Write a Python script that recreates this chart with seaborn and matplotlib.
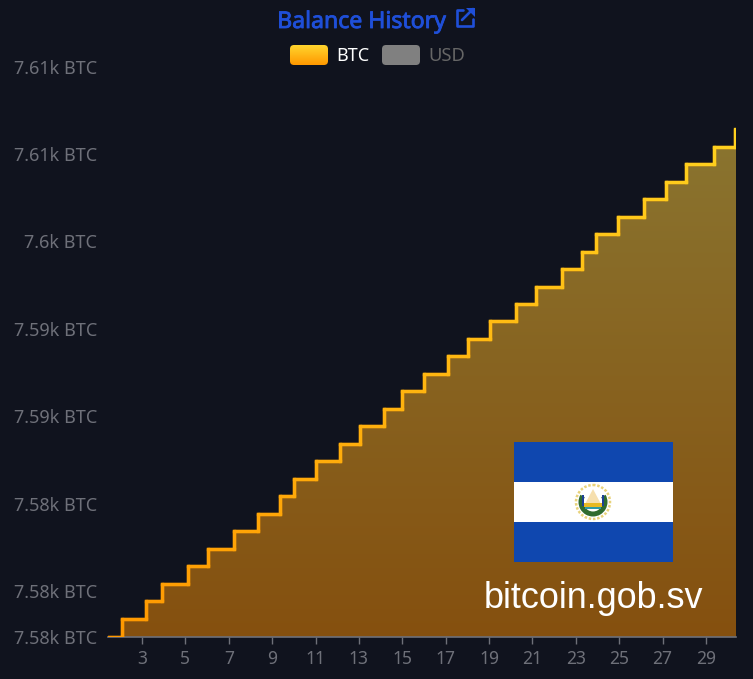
import numpy as np
import matplotlib
matplotlib.use("Agg")
import matplotlib.pyplot as plt
import matplotlib.patheffects as pe
import seaborn as sns
import pandas as pd
from matplotlib.collections import LineCollection
from matplotlib.colors import LinearSegmentedColormap
from matplotlib.patches import FancyBboxPatch, Rectangle, Circle, Polygon, Wedge

# ---- data ----
days = [1.43, 2.08, 3.18, 3.92, 5.12, 6.04, 7.24, 8.35, 9.36, 10.01, 11.02, 12.13, 13.05,
        14.16, 14.99, 16.00, 17.11, 18.03, 19.04, 20.24, 21.16, 22.36, 23.29, 23.93,
        24.95, 26.14, 27.16, 28.08, 29.37, 30.34]
balance = [7577.37, 7578.42, 7579.42, 7580.42, 7581.42, 7582.42, 7583.42, 7584.42, 7585.42,
           7586.42, 7587.42, 7588.42, 7589.42, 7590.42, 7591.42, 7592.42, 7593.42, 7594.42,
           7595.42, 7596.42, 7597.42, 7598.42, 7599.42, 7600.42, 7601.42, 7602.42, 7603.42,
           7604.42, 7605.42, 7606.42]
x_ticks = [3, 5, 7, 9, 11, 13, 15, 17, 19, 21, 23, 25, 27, 29]
y_ticks = [7577.37, 7580, 7585, 7590, 7595, 7600, 7605, 7610]
y_tick_labels = ["7.58k BTC", "7.58k BTC", "7.58k BTC", "7.59k BTC", "7.59k BTC",
                 "7.6k BTC", "7.61k BTC", "7.61k BTC"]
title_text = "Balance History"
legend_labels = ["BTC", "USD"]
watermark = "bitcoin.gob.sv"

BG = "#10131e"
AXC = "#6e7079"
W, H = 753, 679
sns.set_theme(style="dark")
plt.rcParams["font.family"] = ["Noto Sans", "DejaVu Sans"]

fig = plt.figure(figsize=(W / 100, H / 100), dpi=100, facecolor=BG)
ax = fig.add_axes([108 / W, (H - 637) / H, 628 / W, (637 - 66.6) / H], facecolor=BG)

df = pd.DataFrame({"day": days, "balance": balance})
XL = (1.432, 30.385)
YL = (7577.37, 7610.0)

# gradient area
grad = LinearSegmentedColormap.from_list("a", ["#85500f", "#8a7530"])
top = max(balance)
im = ax.imshow(np.linspace(1, 0, 256).reshape(-1, 1), cmap=grad,
               extent=(XL[0], XL[1], YL[0], top), aspect="auto", zorder=1,
               origin="upper", vmin=0, vmax=1)
xs = days + [XL[1]]
ys = balance + [balance[-1]]
poly = ax.fill_between(xs, ys, YL[0], step="post", color="none", lw=0)
im.set_clip_path(poly.get_paths()[0], transform=ax.transData)

# step line
sns.lineplot(data=df, x="day", y="balance", drawstyle="steps-post", color="#ff9800",
             linewidth=2.4, ax=ax, zorder=3, errorbar=None, estimator=None, sort=False)
lcm = LinearSegmentedColormap.from_list("l", ["#ff9800", "#ffd21f"])
segs, cols = [], []
for i in range(len(days) - 1):
    segs.append([(days[i], balance[i]), (days[i + 1], balance[i])])
    cols.append(lcm(i / (len(days) - 1)))
    segs.append([(days[i + 1], balance[i]), (days[i + 1], balance[i + 1])])
    cols.append(lcm((i + 0.5) / (len(days) - 1)))
ax.add_collection(LineCollection(segs, colors=cols, linewidths=2.4, zorder=4, capstyle="projecting"))

ax.set_xlim(*XL)
ax.set_ylim(*YL)
ax.set_xlabel("")
ax.set_ylabel("")
ax.set_xticks(x_ticks)
ax.set_xticklabels([str(t) for t in x_ticks])
ax.set_yticks(y_ticks)
ax.set_yticklabels(y_tick_labels)
ax.grid(False)
for s in ["top", "right", "left"]:
    ax.spines[s].set_visible(False)
ax.spines["bottom"].set_color(AXC)
ax.spines["bottom"].set_linewidth(1.2)
ax.tick_params(axis="x", colors=AXC, length=5, width=1, labelsize=12.6, pad=4, bottom=True)
ax.tick_params(axis="y", colors=AXC, length=0, labelsize=13, pad=8)

# overlay in pixel coordinates
ov = fig.add_axes([0, 0, 1, 1], facecolor="none", zorder=5)
ov.set_xlim(0, W)
ov.set_ylim(H, 0)
ov.axis("off")

ov.text(361.5, 22, title_text, color="#1f4fd8", fontsize=16.6, ha="center", va="center",
        family="Noto Sans", path_effects=[pe.withStroke(linewidth=0.6, foreground="#1f4fd8")])

# external-link icon
icon_c = "#1f4fd8"
ov.plot([463, 457, 457, 473, 473], [10, 10, 26, 26, 19], color=icon_c, lw=1.9, solid_joinstyle="round")
ov.plot([462, 473], [20, 9], color=icon_c, lw=1.9)
ov.add_patch(Polygon([[466, 8], [475, 8], [475, 17]], color=icon_c, lw=0))

# legend
def rrect(x0, y0, w, h, **kw):
    return FancyBboxPatch((x0 + 4, y0 + 4), w - 8, h - 8, boxstyle="round,pad=4,rounding_size=4", lw=0, **kw)

p = rrect(290, 45, 38, 20, facecolor="none")
ov.add_patch(p)
leg = LinearSegmentedColormap.from_list("leg", ["#ffd52e", "#ff9800"])
g = ov.imshow(np.linspace(0, 1, 64).reshape(-1, 1), cmap=leg, extent=(290, 328, 65, 45), aspect="auto", zorder=2)
g.set_clip_path(p)
ov.add_patch(rrect(382, 45, 38, 20, facecolor="#808080"))
ov.text(336, 56, legend_labels[0], color="white", fontsize=13, va="center", ha="left")
ov.text(428, 56, legend_labels[1], color="#666666", fontsize=13.2, va="center", ha="left")

# flag
ov.add_patch(Rectangle((514, 442), 159, 120, color="#0f47af", lw=0, zorder=3))
ov.add_patch(Rectangle((514, 482), 159, 40, color="white", lw=0, zorder=3))
cx, cy = 593, 502
ov.add_patch(Circle((cx, cy), 17, facecolor="none", edgecolor="#e8d27a", lw=1.8, ls=(0, (1, 0.7)), zorder=4))
ov.add_patch(Wedge((cx, cy), 14.5, -30, 210, width=5, facecolor="#2f6b2f", lw=0, zorder=4))
ov.add_patch(Polygon([[cx, cy - 13], [cx + 9, cy + 4], [cx - 9, cy + 4]], facecolor="#f6dfae", lw=0, zorder=5))
ov.add_patch(Rectangle((cx - 9, cy + 1), 18, 3.5, color="#e8b923", lw=0, zorder=6))
ov.add_patch(Rectangle((cx - 8, cy + 4.5), 16, 2.5, color="#2f9aa8", lw=0, zorder=6))
ov.add_patch(Rectangle((cx - 11, cy - 7), 2.4, 11, color="#1c3f94", lw=0, zorder=6))
ov.add_patch(Rectangle((cx + 8.6, cy - 7), 2.4, 11, color="#1c3f94", lw=0, zorder=6))
ov.set_xlim(0, W)
ov.set_ylim(H, 0)

ov.text(593.5, 599, watermark, color="white", fontsize=25.9, ha="center", va="center",
        family="Liberation Sans", zorder=6)

fig.savefig("out.png", dpi=100, facecolor=BG)
